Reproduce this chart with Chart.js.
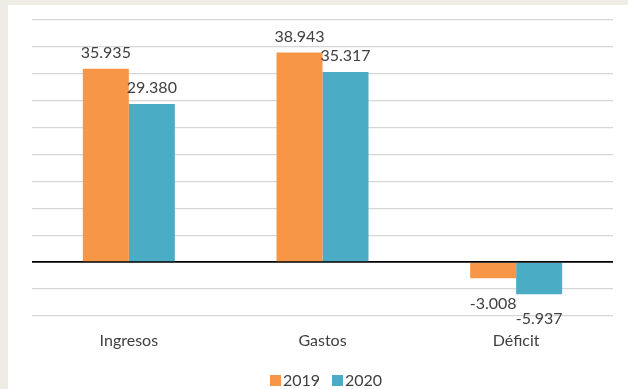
<!DOCTYPE html>
<html>
<head>
<meta charset="utf-8">
<script src="https://cdn.jsdelivr.net/npm/chart.js@4/dist/chart.umd.min.js"></script>
<style>
  html, body { margin: 0; padding: 0; }
  body { width: 628px; height: 389px; background: #efece5; position: relative; overflow: hidden; }
  #box { position: absolute; left: 8px; top: 5px; width: 620px; height: 384px; background: #ffffff; }
  canvas { display: block; }
  #legend { position: absolute; left: 8px; width: 620px; top: 365px; height: 20px; text-align: center;
            font: 16px Lato, "Open Sans", sans-serif; color: #404040; line-height: 20px; white-space: nowrap; }
  #legend .item { display: inline-block; margin: 0 6px; }
  #legend .sw { display: inline-block; width: 11px; height: 11px; margin-right: 2px; vertical-align: 0px; }
</style>
</head>
<body>
<div id="box"><canvas id="c" width="620" height="384"></canvas><div id="legend"></div></div>
<script>
const categories = ['Ingresos', 'Gastos', 'Déficit'];
const seriesNames = ['2019', '2020'];
const values2019 = [35935, 38943, -3008];
const values2020 = [29380, 35317, -5937];
const yMin = -10000, yMax = 45000, yStep = 5000;

const colors = ['#F79646', '#4BACC6'];
const textColor = '#404040';
const fontFamily = 'Lato, "Open Sans", sans-serif';

function fmt(v) {
  const s = Math.abs(v).toString().replace(/\B(?=(\d{3})+(?!\d))/g, '.');
  return (v < 0 ? '-' : '') + s;
}

const labelPlugin = {
  id: 'barLabels',
  afterDatasetsDraw(chart) {
    const ctx = chart.ctx;
    ctx.save();
    ctx.font = '16px ' + fontFamily;
    ctx.fillStyle = textColor;
    ctx.textAlign = 'center';
    ctx.textBaseline = 'middle';
    chart.data.datasets.forEach((ds, di) => {
      const meta = chart.getDatasetMeta(di);
      meta.data.forEach((bar, i) => {
        const v = ds.data[i];
        if (v >= 0) ctx.fillText(fmt(v), bar.x, bar.y - 16);
        else ctx.fillText(fmt(v), bar.x, bar.y + 25);
      });
    });
    ctx.restore();
  }
};

const chart = new Chart(document.getElementById('c'), {
  type: 'bar',
  data: {
    labels: categories,
    datasets: [
      { label: seriesNames[0], data: values2019, backgroundColor: colors[0], borderWidth: 0 },
      { label: seriesNames[1], data: values2020, backgroundColor: colors[1], borderWidth: 0 }
    ]
  },
  options: {
    responsive: false,
    animation: false,
    devicePixelRatio: 1,
    layout: { padding: { left: 24, right: 15, top: 15, bottom: 33 } },
    datasets: { bar: { categoryPercentage: 0.475, barPercentage: 1.0 } },
    scales: {
      x: {
        grid: { display: false, drawTicks: false },
        border: { display: false },
        ticks: { color: textColor, font: { family: fontFamily, size: 16 }, padding: 15 },
        afterFit(scale) { scale.height = 40; }
      },
      y: {
        min: yMin, max: yMax,
        ticks: { display: false, stepSize: yStep },
        border: { display: false },
        grid: {
          drawTicks: false,
          color: (c) => (c.tick && c.tick.value === 0 ? '#000000' : '#d6d6d6'),
          lineWidth: (c) => (c.tick && c.tick.value === 0 ? 1.7 : 1.3)
        },
        afterFit(scale) { scale.width = 0; }
      }
    },
    plugins: {
      legend: { display: false },
      tooltip: { enabled: false }
    }
  },
  plugins: [labelPlugin]
});

const legendEl = document.getElementById('legend');
chart.data.datasets.forEach((ds) => {
  const item = document.createElement('span');
  item.className = 'item';
  const sw = document.createElement('span');
  sw.className = 'sw';
  sw.style.background = ds.backgroundColor;
  item.appendChild(sw);
  item.appendChild(document.createTextNode(ds.label));
  legendEl.appendChild(item);
});
</script>
</body>
</html>
